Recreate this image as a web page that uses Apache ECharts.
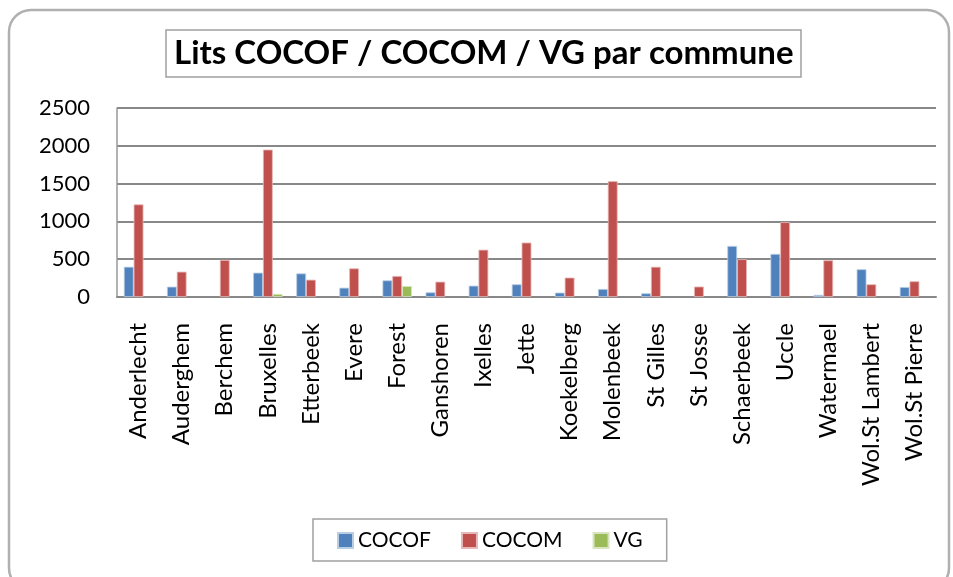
<!DOCTYPE html>
<html>
<head>
<meta charset="utf-8">
<script src="https://cdn.jsdelivr.net/npm/echarts@6/dist/echarts.min.js"></script>
<style>
  html, body { margin: 0; padding: 0; background: #fff; }
  #chart { width: 953px; height: 577px; }
</style>
</head>
<body>
<div id="chart"></div>
<script>
// communes
const communes = ['Anderlecht', 'Auderghem', 'Berchem', 'Bruxelles', 'Etterbeek', 'Evere', 'Forest',
  'Ganshoren', 'Ixelles', 'Jette', 'Koekelberg', 'Molenbeek', 'St Gilles', 'St Josse',
  'Schaerbeek', 'Uccle', 'Watermael', 'Wol.St Lambert', 'Wol.St Pierre'];

// lits par commune
const cocof = [400, 137, 0, 322, 312, 123, 220, 62, 150, 168, 58, 106, 49, 0, 675, 570, 27, 367, 132];
const cocom = [1225, 335, 490, 1950, 229, 379, 278, 203, 626, 720, 257, 1532, 400, 138, 500, 990, 486, 168, 208];
const vg = [0, 0, 0, 40, 0, 0, 145, 0, 0, 0, 0, 0, 0, 0, 0, 0, 0, 0, 0];

const font = 'Lato, "Open Sans", sans-serif';

const chart = echarts.init(document.getElementById('chart'));

function bar(name, data, color, border) {
  return {
    name: name,
    type: 'bar',
    // pas de barre pour les valeurs nulles
    data: data.map(v => (v === 0 ? '-' : v)),
    barWidth: 9.8,
    barGap: '0%',
    itemStyle: { color: color, borderColor: border, borderWidth: 0.8 }
  };
}

const option = {
  animation: false,
  backgroundColor: '#fff',
  graphic: [{
    type: 'rect',
    shape: { x: 9, y: 10, width: 940, height: 580, r: 22 },
    style: { fill: 'none', stroke: '#b0b0b0', lineWidth: 2.5 },
    silent: true
  }],
  title: {
    text: 'Lits COCOF / COCOM / VG par commune',
    left: 166,
    top: 30,
    padding: [7, 8, 7, 8],
    borderColor: '#a0a0a0',
    borderWidth: 1.5,
    textStyle: { fontFamily: font, fontSize: 33, fontWeight: 'bold', color: '#000' }
  },
  legend: {
    left: 313,
    top: 519,
    padding: [11, 24, 10, 24],
    borderColor: '#a0a0a0',
    borderWidth: 1.5,
    itemWidth: 15,
    itemHeight: 15,
    itemGap: 30,
    icon: 'rect',
    textStyle: { fontFamily: font, fontSize: 21, color: '#000' },
    data: ['COCOF', 'COCOM', 'VG']
  },
  grid: { left: 117, right: 17, top: 108, bottom: 280, containLabel: false },
  xAxis: {
    type: 'category',
    data: communes,
    axisLine: { lineStyle: { color: '#888', width: 2 } },
    axisTick: { show: false },
    axisLabel: {
      rotate: 90,
      interval: 0,
      margin: 26,
      fontFamily: font,
      fontSize: 24,
      color: '#000'
    }
  },
  yAxis: {
    type: 'value',
    min: 0,
    max: 2500,
    interval: 500,
    axisLine: { show: true, lineStyle: { color: '#999', width: 1.5 } },
    axisTick: { show: false },
    splitLine: { lineStyle: { color: '#888', width: 2 } },
    axisLabel: { fontFamily: font, fontSize: 22, color: '#000', margin: 27, formatter: v => String(v) }
  },
  series: [
    bar('COCOF', cocof, '#4F81BD', '#b9cde5'),
    bar('COCOM', cocom, '#C0504D', '#e6b9b8'),
    bar('VG', vg, '#9BBB59', '#d7e4bd')
  ]
};

chart.setOption(option);
</script>
</body>
</html>
